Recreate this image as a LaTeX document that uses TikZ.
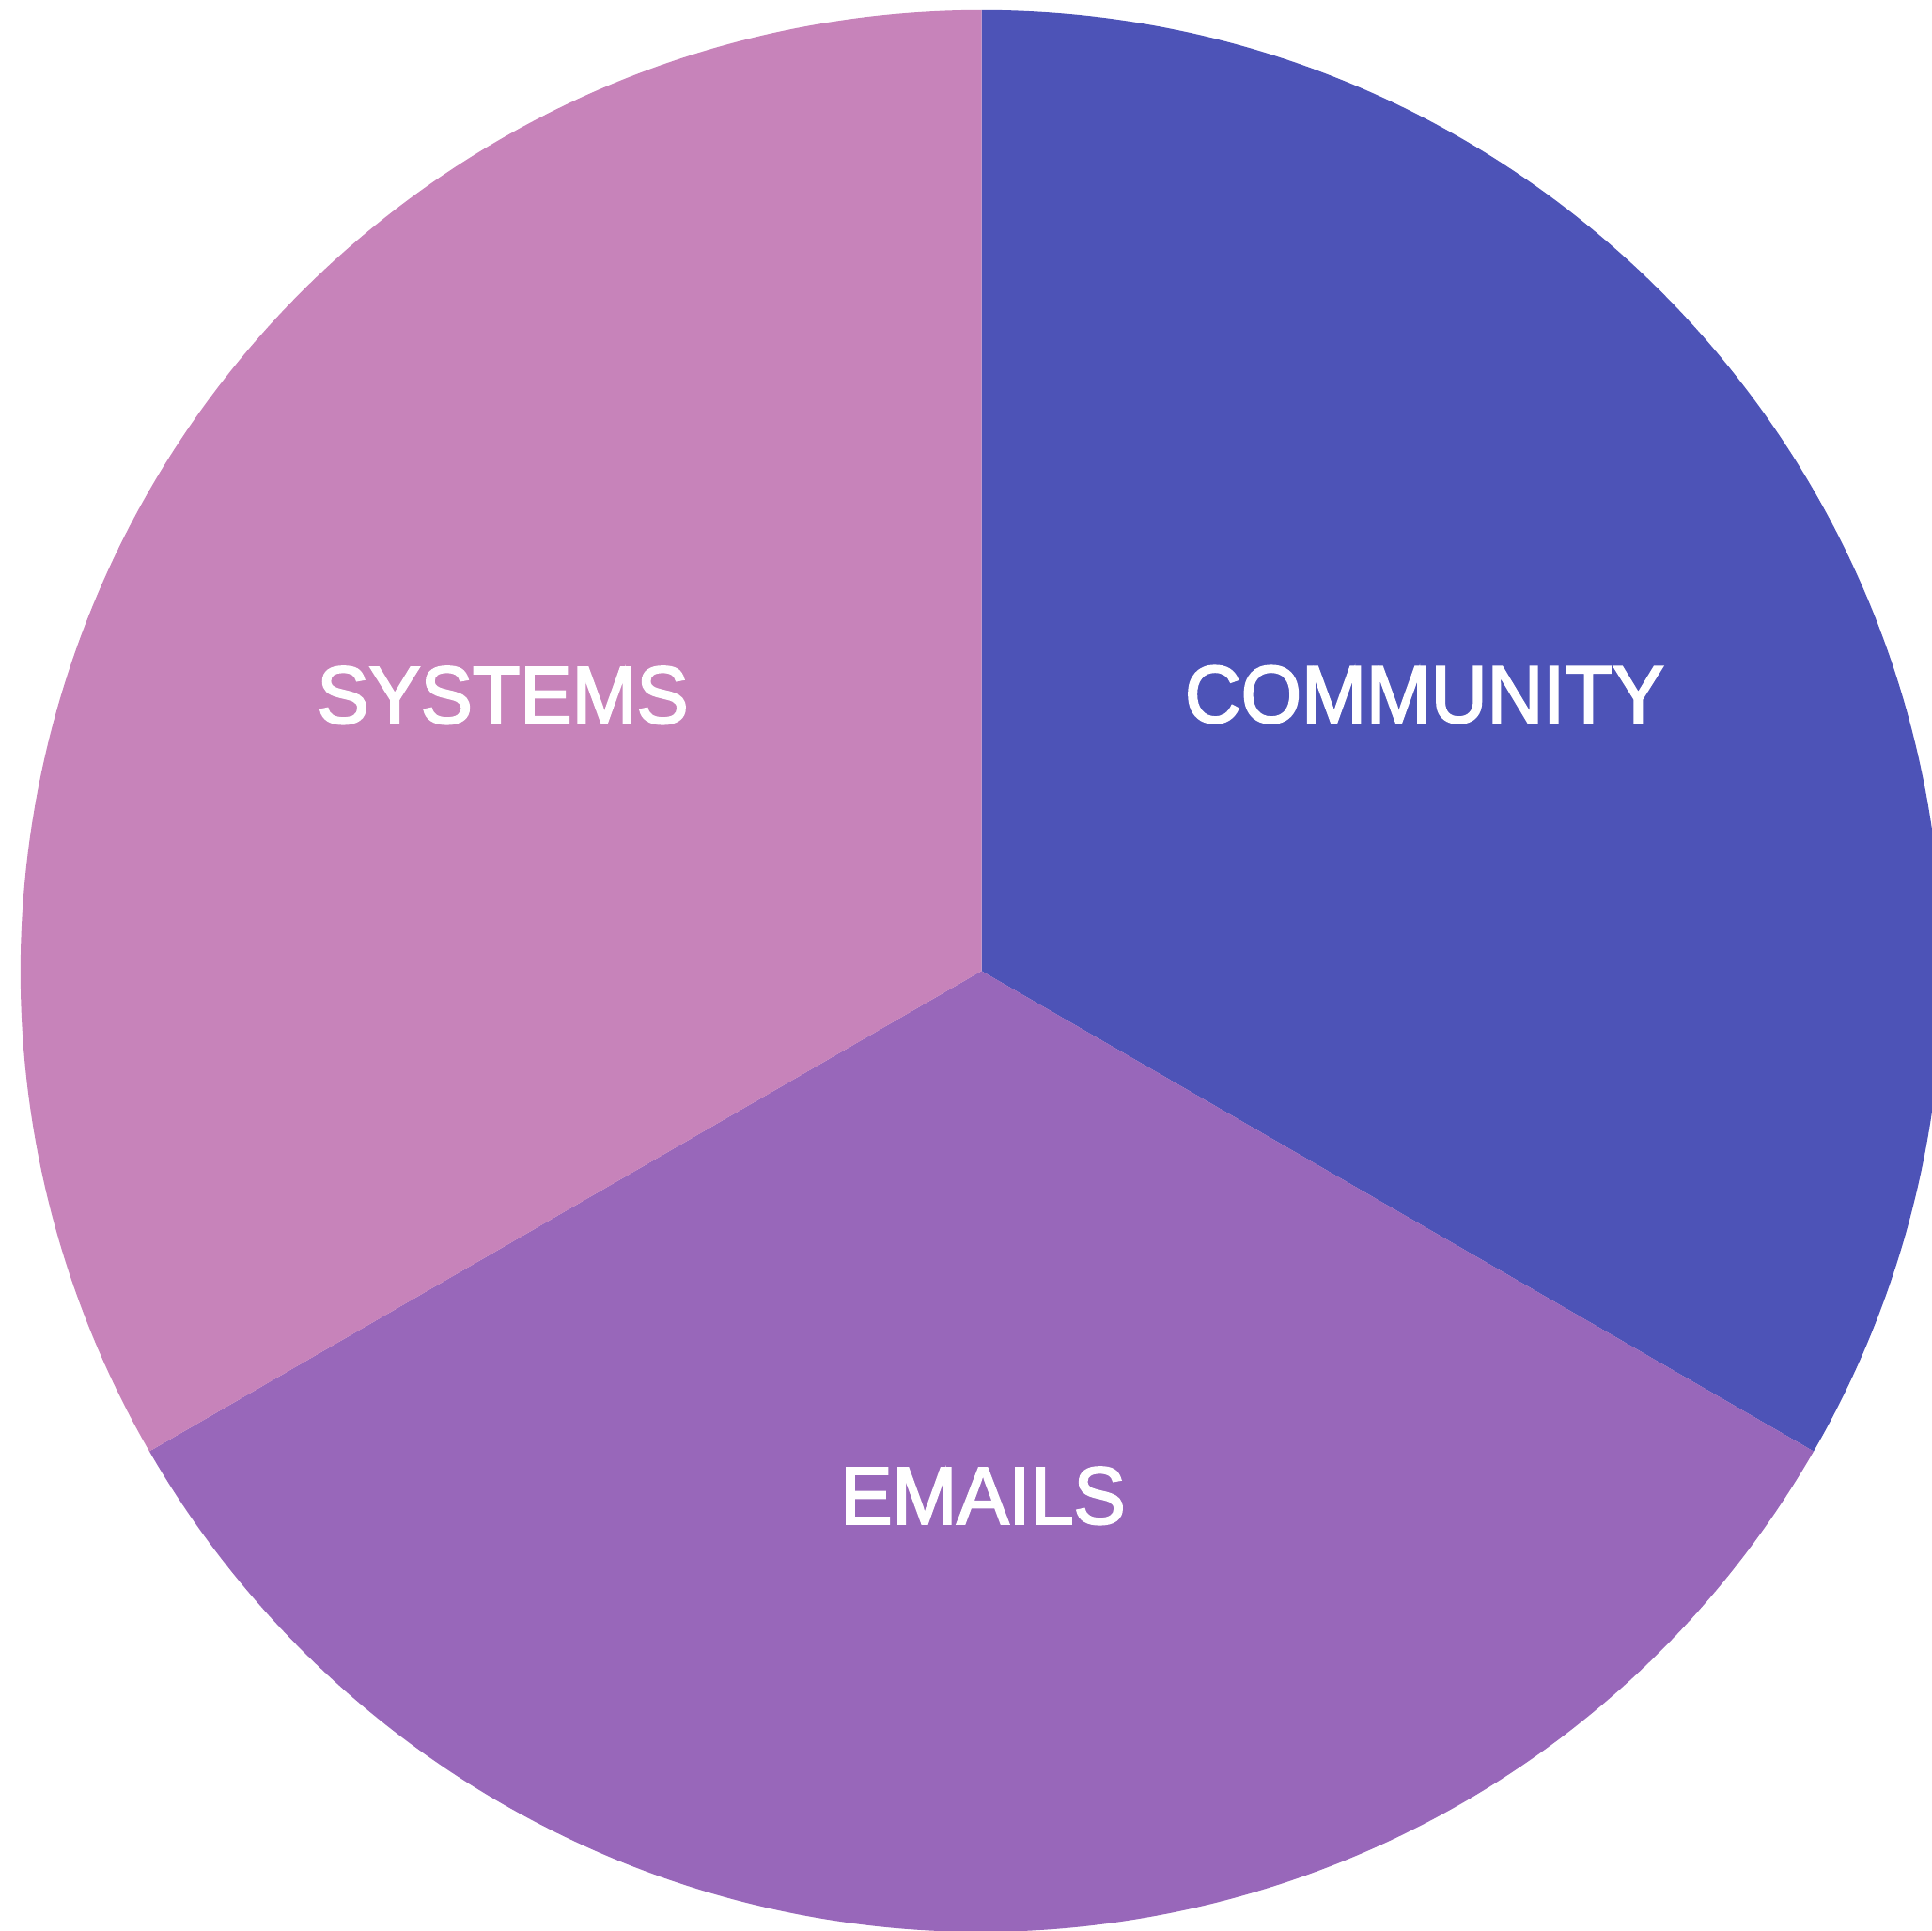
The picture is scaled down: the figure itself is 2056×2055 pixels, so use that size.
\documentclass[tikz,border=0pt]{standalone}
\usepackage{fontspec}
\setmainfont{Liberation Sans}[FakeStretch=0.955, FakeBold=2.5]
\definecolor{sysc}{HTML}{C783BA}
\definecolor{comc}{HTML}{4D53B7}
\definecolor{emc}{HTML}{9867BA}
\tikzset{
  slice/.style={line width=0.6pt},
  lbl/.style={text=white, anchor=base, inner sep=0pt, font=\fontsize{86.6}{100}\selectfont}
}
\begin{document}
\begin{tikzpicture}[x=1pt,y=1pt]
\useasboundingbox (0,0) rectangle (2056,2055);
\clip (0,0) rectangle (2056,2055);
\coordinate (c) at (1044.5,1021.7);
\def\R{1022.5}
\fill[slice, comc] (c) -- ++(90:\R) arc[start angle=90, end angle=-30, radius=\R] -- cycle;
\fill[slice, emc] (c) -- ++(-30:\R) arc[start angle=-30, end angle=-150, radius=\R] -- cycle;
\fill[slice, sysc] (c) -- ++(210:\R) arc[start angle=210, end angle=90, radius=\R] -- cycle;
\node[lbl] (community) at (1516,1286) {COMMUNITY};
\node[lbl] (systems) at (535,1285.3) {SYSTEMS};
\node[lbl] (emails) at (1046,433.3) {EMAILS};
\end{tikzpicture}
\end{document}
